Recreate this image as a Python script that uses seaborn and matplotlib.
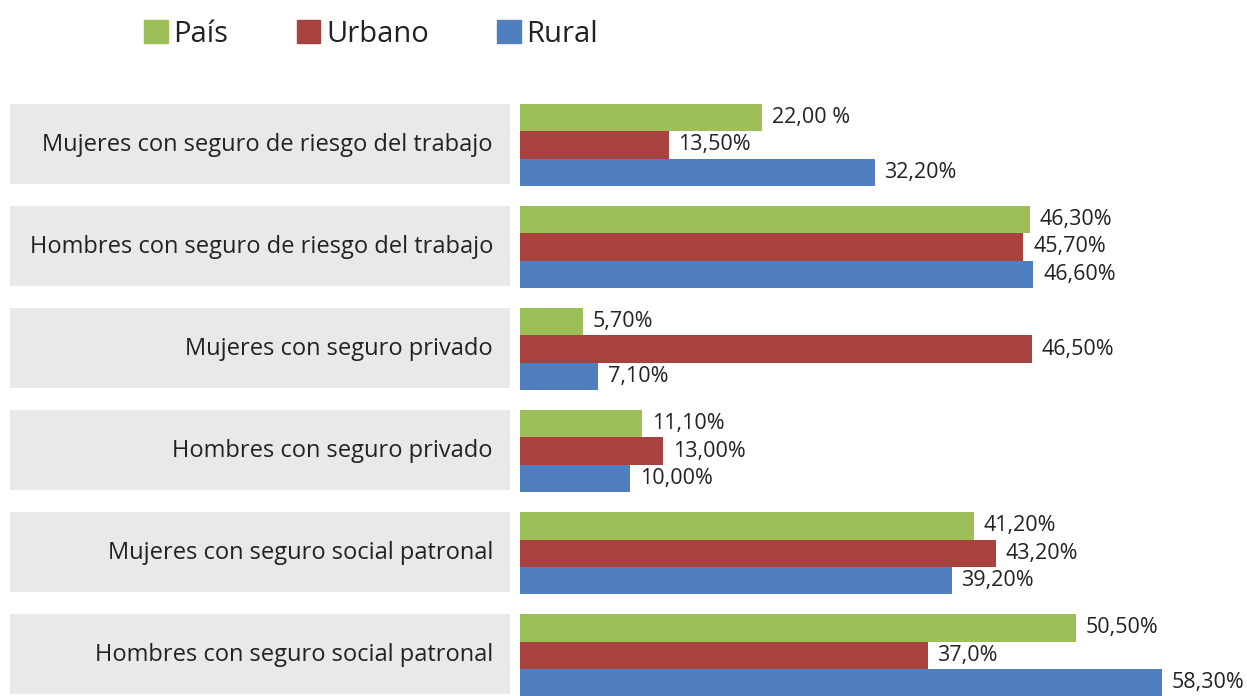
import pandas as pd
import seaborn as sns
import matplotlib.pyplot as plt
from matplotlib.patches import Rectangle
import matplotlib.transforms as mtransforms

categorias = ['Mujeres con seguro de riesgo del trabajo',
              'Hombres con seguro de riesgo del trabajo',
              'Mujeres con seguro privado',
              'Hombres con seguro privado',
              'Mujeres con seguro social patronal',
              'Hombres con seguro social patronal']
pais = [22.0, 46.3, 5.7, 11.1, 41.2, 50.5]
urbano = [13.5, 45.7, 46.5, 13.0, 43.2, 37.0]
rural = [32.2, 46.6, 7.1, 10.0, 39.2, 58.3]
etiq_pais = ['22,00 %', '46,30%', '5,70%', '11,10%', '41,20%', '50,50%']
etiq_urbano = ['13,50%', '45,70%', '46,50%', '13,00%', '43,20%', '37,0%']
etiq_rural = ['32,20%', '46,60%', '7,10%', '10,00%', '39,20%', '58,30%']

series = ['País', 'Urbano', 'Rural']
colores = ['#9DBF5A', '#A8423F', '#4F7FBF']

base = pd.DataFrame({
    'categoria': categorias * 3,
    'serie': [s for s in series for _ in categorias],
    'valor': pais + urbano + rural,
})

sns.set_style('white')
plt.rcParams['font.family'] = ['Open Sans', 'DejaVu Sans']

fig = plt.figure(figsize=(12.47, 6.96), dpi=100)
ax = fig.add_axes([520 / 1247, 0, 727 / 1247, 596 / 696])

sns.barplot(data=base, x='valor', y='categoria', hue='serie', orient='h',
            palette=colores, hue_order=series, order=categorias,
            saturation=1, legend=False, ax=ax, edgecolor='none')

for cont, et in zip(ax.containers, [etiq_pais, etiq_urbano, etiq_rural]):
    ax.bar_label(cont, labels=et, padding=7, fontsize=15.5, color='#222222')

ax.set_xlim(0, 66)
ax.set_ylim(5.40, -0.44)
ax.set_xlabel('')
ax.set_ylabel('')
ax.set_xticks([])
ax.set_yticks([])
for s in ax.spines.values():
    s.set_visible(False)

# cajas grises con el nombre de cada categoria
trans = mtransforms.blended_transform_factory(fig.transFigure, ax.transData)
for i, cat in enumerate(categorias):
    ax.add_patch(Rectangle((10 / 1247, i - 0.4), 500 / 1247, 0.78,
                           transform=trans, facecolor='#E8E9E9',
                           edgecolor='none', clip_on=False))
    ax.text(493 / 1247, i, cat, transform=trans, ha='right', va='center',
            fontsize=17, color='#222222')

handles = [Rectangle((0, 0), 1, 1, color=c) for c in colores]
fig.legend(handles, series, loc='center left', bbox_to_anchor=(118 / 1247, 1 - 34 / 696),
           ncol=3, frameon=False, fontsize=21, handlelength=0.8, handleheight=0.8,
           handletextpad=0.2, columnspacing=2.35, labelcolor='#222222')

plt.savefig('out.png', dpi=100)
